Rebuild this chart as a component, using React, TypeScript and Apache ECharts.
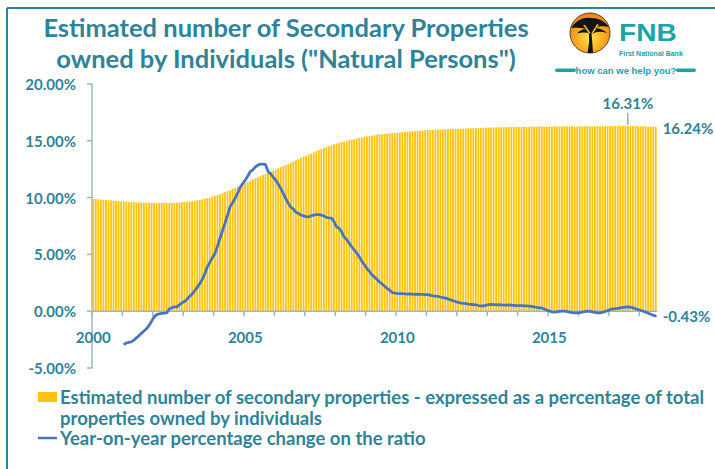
import React, { useEffect, useRef } from "react";
import * as echarts from "echarts";

// Secondary properties as % of total properties owned by individuals (monthly, Jan 2000 - Jul 2018)
const ratio2000 = [9.88, 9.87, 9.85, 9.83, 9.81, 9.79, 9.77, 9.75, 9.73, 9.71, 9.69, 9.67];
const ratio2001 = [9.65, 9.63, 9.62, 9.6, 9.59, 9.58, 9.57, 9.56, 9.55, 9.55, 9.54, 9.54];
const ratio2002 = [9.54, 9.53, 9.53, 9.53, 9.53, 9.53, 9.53, 9.54, 9.54, 9.55, 9.56, 9.58];
const ratio2003 = [9.6, 9.62, 9.65, 9.68, 9.71, 9.75, 9.79, 9.84, 9.89, 9.95, 10.01, 10.08];
const ratio2004 = [10.15, 10.22, 10.3, 10.38, 10.47, 10.56, 10.65, 10.75, 10.85, 10.96, 11.07, 11.18];
const ratio2005 = [11.29, 11.39, 11.49, 11.59, 11.69, 11.79, 11.89, 11.99, 12.09, 12.19, 12.29, 12.39];
const ratio2006 = [12.49, 12.58, 12.68, 12.78, 12.88, 12.98, 13.08, 13.18, 13.28, 13.38, 13.48, 13.58];
const ratio2007 = [13.68, 13.78, 13.88, 13.98, 14.08, 14.18, 14.28, 14.37, 14.45, 14.53, 14.61, 14.69];
const ratio2008 = [14.76, 14.82, 14.88, 14.94, 15.0, 15.05, 15.1, 15.15, 15.2, 15.25, 15.3, 15.35];
const ratio2009 = [15.4, 15.44, 15.47, 15.5, 15.53, 15.56, 15.58, 15.61, 15.63, 15.65, 15.67, 15.69];
const ratio2010 = [15.71, 15.73, 15.75, 15.77, 15.79, 15.81, 15.83, 15.85, 15.87, 15.89, 15.91, 15.93];
const ratio2011 = [15.94, 15.95, 15.96, 15.97, 15.98, 15.99, 16.0, 16.01, 16.02, 16.03, 16.04, 16.05];
const ratio2012 = [16.05, 16.06, 16.07, 16.08, 16.09, 16.1, 16.1, 16.11, 16.12, 16.13, 16.14, 16.15];
const ratio2013 = [16.15, 16.16, 16.17, 16.17, 16.18, 16.19, 16.19, 16.2, 16.2, 16.21, 16.21, 16.22];
const ratio2014 = [16.22, 16.22, 16.23, 16.23, 16.23, 16.24, 16.24, 16.24, 16.25, 16.25, 16.25, 16.25];
const ratio2015 = [16.25, 16.26, 16.26, 16.26, 16.26, 16.26, 16.27, 16.27, 16.27, 16.27, 16.27, 16.27];
const ratio2016 = [16.27, 16.27, 16.28, 16.28, 16.28, 16.28, 16.28, 16.28, 16.28, 16.28, 16.29, 16.29];
const ratio2017 = [16.29, 16.29, 16.29, 16.29, 16.3, 16.3, 16.3, 16.31, 16.3, 16.3, 16.29, 16.28];
const ratio2018 = [16.28, 16.27, 16.27, 16.26, 16.25, 16.25, 16.24];

// Year-on-year % change on the ratio (starts Jan 2001)
const yoy2000 = [null, null, null, null, null, null, null, null, null, null, null, null];
const yoy2001 = [-2.94, -2.8, -2.74, -2.7, -2.55, -2.35, -2.17, -1.95, -1.75, -1.55, -1.25, -0.9];
const yoy2002 = [-0.5, -0.3, -0.24, -0.2, -0.18, -0.15, 0.2, 0.3, 0.38, 0.38, 0.55, 0.73];
const yoy2003 = [0.85, 1.05, 1.3, 1.5, 1.8, 2.1, 2.4, 2.8, 3.3, 3.9, 4.3, 4.7];
const yoy2004 = [5.08, 5.7, 6.4, 7.1, 7.75, 8.45, 9.19, 9.55, 9.95, 10.4, 10.9, 11.25];
const yoy2005 = [11.54, 11.9, 12.3, 12.45, 12.7, 12.86, 12.95, 12.95, 12.9, 12.3, 12.1, 11.8];
const yoy2006 = [11.54, 11.2, 10.8, 10.37, 9.9, 9.5, 9.14, 9.0, 8.7, 8.6, 8.45, 8.4];
const yoy2007 = [8.31, 8.3, 8.4, 8.46, 8.5, 8.5, 8.46, 8.4, 8.25, 8.22, 8.2, 7.9];
const yoy2008 = [7.43, 7.3, 7.0, 6.55, 6.3, 6.0, 5.67, 5.4, 5.1, 4.78, 4.4, 4.1];
const yoy2009 = [3.76, 3.5, 3.2, 3.0, 2.8, 2.55, 2.4, 2.2, 2.0, 1.85, 1.65, 1.58];
const yoy2010 = [1.56, 1.55, 1.55, 1.52, 1.5, 1.52, 1.5, 1.48, 1.5, 1.49, 1.47, 1.46];
const yoy2011 = [1.46, 1.42, 1.35, 1.32, 1.3, 1.25, 1.2, 1.15, 1.08, 1.0, 0.92, 0.85];
const yoy2012 = [0.77, 0.72, 0.7, 0.66, 0.62, 0.59, 0.58, 0.55, 0.5, 0.47, 0.47, 0.52];
const yoy2013 = [0.58, 0.59, 0.58, 0.56, 0.57, 0.55, 0.54, 0.53, 0.55, 0.54, 0.52, 0.5];
const yoy2014 = [0.49, 0.48, 0.47, 0.46, 0.45, 0.42, 0.38, 0.34, 0.3, 0.29, 0.2, 0.1];
const yoy2015 = [0.02, -0.06, -0.08, -0.05, -0.02, 0.0, 0.0, -0.03, -0.08, -0.12, -0.15, -0.15];
const yoy2016 = [-0.12, -0.08, -0.03, 0.0, -0.02, -0.06, -0.1, -0.15, -0.14, -0.1, -0.03, 0.05];
const yoy2017 = [0.15, 0.2, 0.22, 0.25, 0.3, 0.33, 0.36, 0.38, 0.36, 0.3, 0.22, 0.15];
const yoy2018 = [0.08, 0.0, -0.08, -0.17, -0.26, -0.35, -0.43];

const startYear = 2000;
const monthsPerYear = 12;
const xLabelYears = ["2000", "2005", "2010", "2015"];
const yMin = -5;
const yMax = 20;
const yStep = 5;
const barName = "Estimated number of secondary properties - expressed as a percentage of total properties owned by individuals";
const barLegendLines = ["Estimated number of secondary properties - expressed as a percentage of total", "properties owned by individuals"];
const lineName = "Year-on-year percentage change on the ratio";
const titleLines = ["Estimated number of Secondary Properties", 'owned by Individuals ("Natural Persons")'];

const ratio = [
  ratio2000, ratio2001, ratio2002, ratio2003, ratio2004, ratio2005, ratio2006, ratio2007, ratio2008, ratio2009,
  ratio2010, ratio2011, ratio2012, ratio2013, ratio2014, ratio2015, ratio2016, ratio2017, ratio2018,
].flat();
const yoy = [
  yoy2000, yoy2001, yoy2002, yoy2003, yoy2004, yoy2005, yoy2006, yoy2007, yoy2008, yoy2009,
  yoy2010, yoy2011, yoy2012, yoy2013, yoy2014, yoy2015, yoy2016, yoy2017, yoy2018,
].flat();
const categories = ratio.map(
  (_, i) => `${startYear + Math.floor(i / monthsPerYear)}-${String((i % monthsPerYear) + 1).padStart(2, "0")}`
);

const TEAL = "#2E8398";
const LOGO_TEAL = "#1AA3A8";
const AXIS = "#98B8C5";
const BAR = "#FFC20E";
const LINE = "#4674BE";
const FONT = "Lato, 'Open Sans', sans-serif";
const LOGO_FONT = "'Liberation Sans', Arial, sans-serif";

const TREE_PATH =
  "M1 15 C6 7 14 4 21 5 C28 5 35 8 39 14 C34 12.5 29 13 25 15 C30 15 34 17 37 20 C31 18 26 18.5 22.5 21 L21.5 22 C20 19.5 15 18.5 7 20.5 C9 17.5 13 16.2 16 16 C11 14.8 6 14.5 1 15 Z " +
  "M19 20 L21.5 20 L22.2 28 L23 40 L17.5 40 L19 30 Z " +
  "M13 12 L19.5 21 L20.5 20 L15 12 Z M27 11 L21 21 L22 21.5 L29 12 Z";

echarts.graphic.registerShape("fnbTree", echarts.graphic.extendPath(TREE_PATH, {}));

function buildGraphics(): any[] {
  const g: any[] = [];
  g.push({ type: "line", id: "frameTop", shape: { x1: 7, y1: 8, x2: 715, y2: 8 }, style: { stroke: TEAL, lineWidth: 2 } });
  g.push({ type: "line", id: "frameLeft", shape: { x1: 7, y1: 8, x2: 7, y2: 469 }, style: { stroke: TEAL, lineWidth: 2 } });
  titleLines.forEach((t, i) => {
    g.push({
      type: "text",
      id: "title" + i,
      x: 286,
      y: 27 + i * 31,
      style: { text: t, fill: TEAL, fontSize: 25.5, fontWeight: "bold", fontFamily: FONT, align: "center", verticalAlign: "middle" },
    });
  });
  g.push({
    type: "group",
    id: "logo",
    x: 570,
    y: 13,
    children: [
      {
        type: "circle",
        shape: { cx: 20, cy: 20, r: 20 },
        style: {
          fill: {
            type: "radial",
            x: 0.5,
            y: 0.62,
            r: 0.6,
            colorStops: [
              { offset: 0, color: "#FFE55A" },
              { offset: 0.45, color: "#FDB827" },
              { offset: 1, color: "#EE7F1A" },
            ],
          },
          stroke: "#3a2a10",
          lineWidth: 0.8,
        },
      },
      { type: "fnbTree", x: 0, y: 0, style: { fill: "#141414" } },
      {
        type: "text",
        x: 49,
        y: 20,
        scaleX: 1.22,
        style: { text: "FNB", fill: LOGO_TEAL, fontSize: 23, fontWeight: 900, fontFamily: LOGO_FONT, verticalAlign: "middle" },
      },
      {
        type: "text",
        x: 49,
        y: 40,
        style: { text: "First National Bank", fill: LOGO_TEAL, fontSize: 7, fontWeight: "bold", fontFamily: LOGO_FONT, verticalAlign: "middle" },
      },
      { type: "rect", shape: { x: -15, y: 55.5, width: 21, height: 3.5, r: 1.7 }, style: { fill: LOGO_TEAL } },
      {
        type: "text",
        x: 56,
        y: 57.5,
        style: { text: "how can we help you?", fill: LOGO_TEAL, fontSize: 9.5, fontWeight: "bold", fontFamily: LOGO_FONT, align: "center", verticalAlign: "middle" },
      },
      { type: "rect", shape: { x: 106, y: 55.5, width: 20, height: 3.5, r: 1.7 }, style: { fill: LOGO_TEAL } },
    ],
  });
  g.push({ type: "rect", id: "legBar", shape: { x: 38, y: 392, width: 19, height: 10 }, style: { fill: BAR } });
  barLegendLines.forEach((t, i) => {
    g.push({
      type: "text",
      id: "legBarT" + i,
      x: 60,
      y: 397 + i * 20.5,
      style: { text: t, fill: TEAL, fontSize: 18.5, fontWeight: "bold", fontFamily: FONT, verticalAlign: "middle" },
    });
  });
  g.push({ type: "line", id: "legLine", shape: { x1: 38, y1: 438, x2: 57, y2: 438 }, style: { stroke: LINE, lineWidth: 2.5 } });
  g.push({
    type: "text",
    id: "legLineT",
    x: 60,
    y: 438,
    style: { text: lineName, fill: TEAL, fontSize: 18.5, fontWeight: "bold", fontFamily: FONT, verticalAlign: "middle" },
  });
  return g;
}

export default function App() {
  const ref = useRef<HTMLDivElement>(null);

  useEffect(() => {
    if (!ref.current) return;
    const chart = echarts.init(ref.current, undefined, { renderer: "svg" });

    const peakVal = Math.max(...ratio);
    const peakIdx = ratio.indexOf(peakVal);
    const lastIdx = ratio.length - 1;
    const labelStyle = { color: TEAL, fontSize: 15, fontWeight: "bold", fontFamily: FONT };

    const barData = ratio.map((v, i) => {
      if (i === peakIdx) {
        return { value: v, label: { show: true, position: "top", distance: 15, formatter: v.toFixed(2) + "%", ...labelStyle } };
      }
      if (i === lastIdx) {
        return {
          value: v,
          label: { show: true, position: ["100%", 0], offset: [6, 1], align: "left", verticalAlign: "middle", formatter: v.toFixed(2) + "%", ...labelStyle },
        };
      }
      return v;
    });
    const lineData = yoy.map((v, i) => {
      if (i === yoy.length - 1 && v !== null) {
        return {
          value: v,
          symbol: "circle",
          symbolSize: 2,
          label: { show: true, position: "right", distance: 6, formatter: v.toFixed(2) + "%", ...labelStyle },
        };
      }
      return v;
    });

    const graphics = buildGraphics();

    chart.setOption({
      animation: false,
      backgroundColor: "#ffffff",
      grid: { left: 92, right: 58, top: 84, bottom: 101, containLabel: false },
      xAxis: {
        type: "category",
        data: categories,
        boundaryGap: true,
        offset: 0,
        axisLine: { show: false, onZero: false },
        axisTick: { show: false },
        axisLabel: {
          interval: (i: number) => xLabelYears.includes(categories[i].slice(0, 4)) && categories[i].endsWith("-01"),
          formatter: (v: string) => v.slice(0, 4),
          margin: 18,
          ...labelStyle,
        },
        splitLine: { show: false },
      },
      yAxis: {
        type: "value",
        min: yMin,
        max: yMax,
        interval: yStep,
        axisLine: { show: true, lineStyle: { color: AXIS, width: 1.5 } },
        axisTick: { show: false },
        axisLabel: { formatter: (v: number) => v.toFixed(2) + "%", margin: 16, ...labelStyle },
        splitLine: { show: false },
      },
      series: [
        {
          name: barName,
          type: "bar",
          data: barData,
          barCategoryGap: "28%",
          itemStyle: { color: BAR },
        },
        {
          name: lineName,
          type: "line",
          data: lineData,
          symbol: "none",
          showSymbol: true,
          showAllSymbol: true,
          z: 6,
          lineStyle: { color: LINE, width: 2.75 },
          itemStyle: { color: LINE },
        },
      ],
      graphic: graphics,
    });

    // Axis line on zero and tick marks, positioned from the library's own scales
    const toY = (v: number) => chart.convertToPixel({ yAxisIndex: 0 }, v) as number;
    const toX = (i: number) => chart.convertToPixel({ xAxisIndex: 0 }, i) as number;
    const zeroY = toY(0);
    const bottomY = toY(yMin);
    const band = toX(1) - toX(0);
    const leftX = toX(0) - band / 2;
    const rightX = toX(lastIdx) + band / 2;
    const extra: any[] = [];
    extra.push({ type: "line", id: "xAxisLine", z: 4, shape: { x1: leftX, y1: zeroY, x2: rightX, y2: zeroY }, style: { stroke: AXIS, lineWidth: 1.5 } });
    for (let i = 0; i <= lastIdx; i += monthsPerYear) {
      const x = toX(i) - band / 2;
      extra.push({ type: "line", id: "xTick" + i, z: 4, shape: { x1: x, y1: zeroY, x2: x, y2: zeroY + 5 }, style: { stroke: AXIS, lineWidth: 1.5 } });
    }
    for (let v = yMin; v <= yMax; v += yStep) {
      const y = toY(v);
      extra.push({ type: "line", id: "yTick" + v, z: 4, shape: { x1: leftX - 5, y1: y, x2: leftX, y2: y }, style: { stroke: AXIS, lineWidth: 1.5 } });
    }
    const p = chart.convertToPixel({ xAxisIndex: 0, yAxisIndex: 0 }, [peakIdx, peakVal]) as number[];
    if (p && isFinite(p[0])) {
      extra.push({ type: "line", id: "leader", z: 4, shape: { x1: p[0], y1: p[1] - 1, x2: p[0], y2: p[1] - 13 }, style: { stroke: "#7F7F7F", lineWidth: 1 } });
    }
    chart.setOption({
      xAxis: { offset: isFinite(zeroY) && isFinite(bottomY) ? zeroY - bottomY : 0 },
      graphic: [...graphics, ...extra],
    });

    return () => chart.dispose();
  }, []);

  return (
    <div
      ref={ref}
      style={{ position: "absolute", left: 0, top: 0, width: 715, height: 469, overflow: "hidden", background: "#fff" }}
    />
  );
}
